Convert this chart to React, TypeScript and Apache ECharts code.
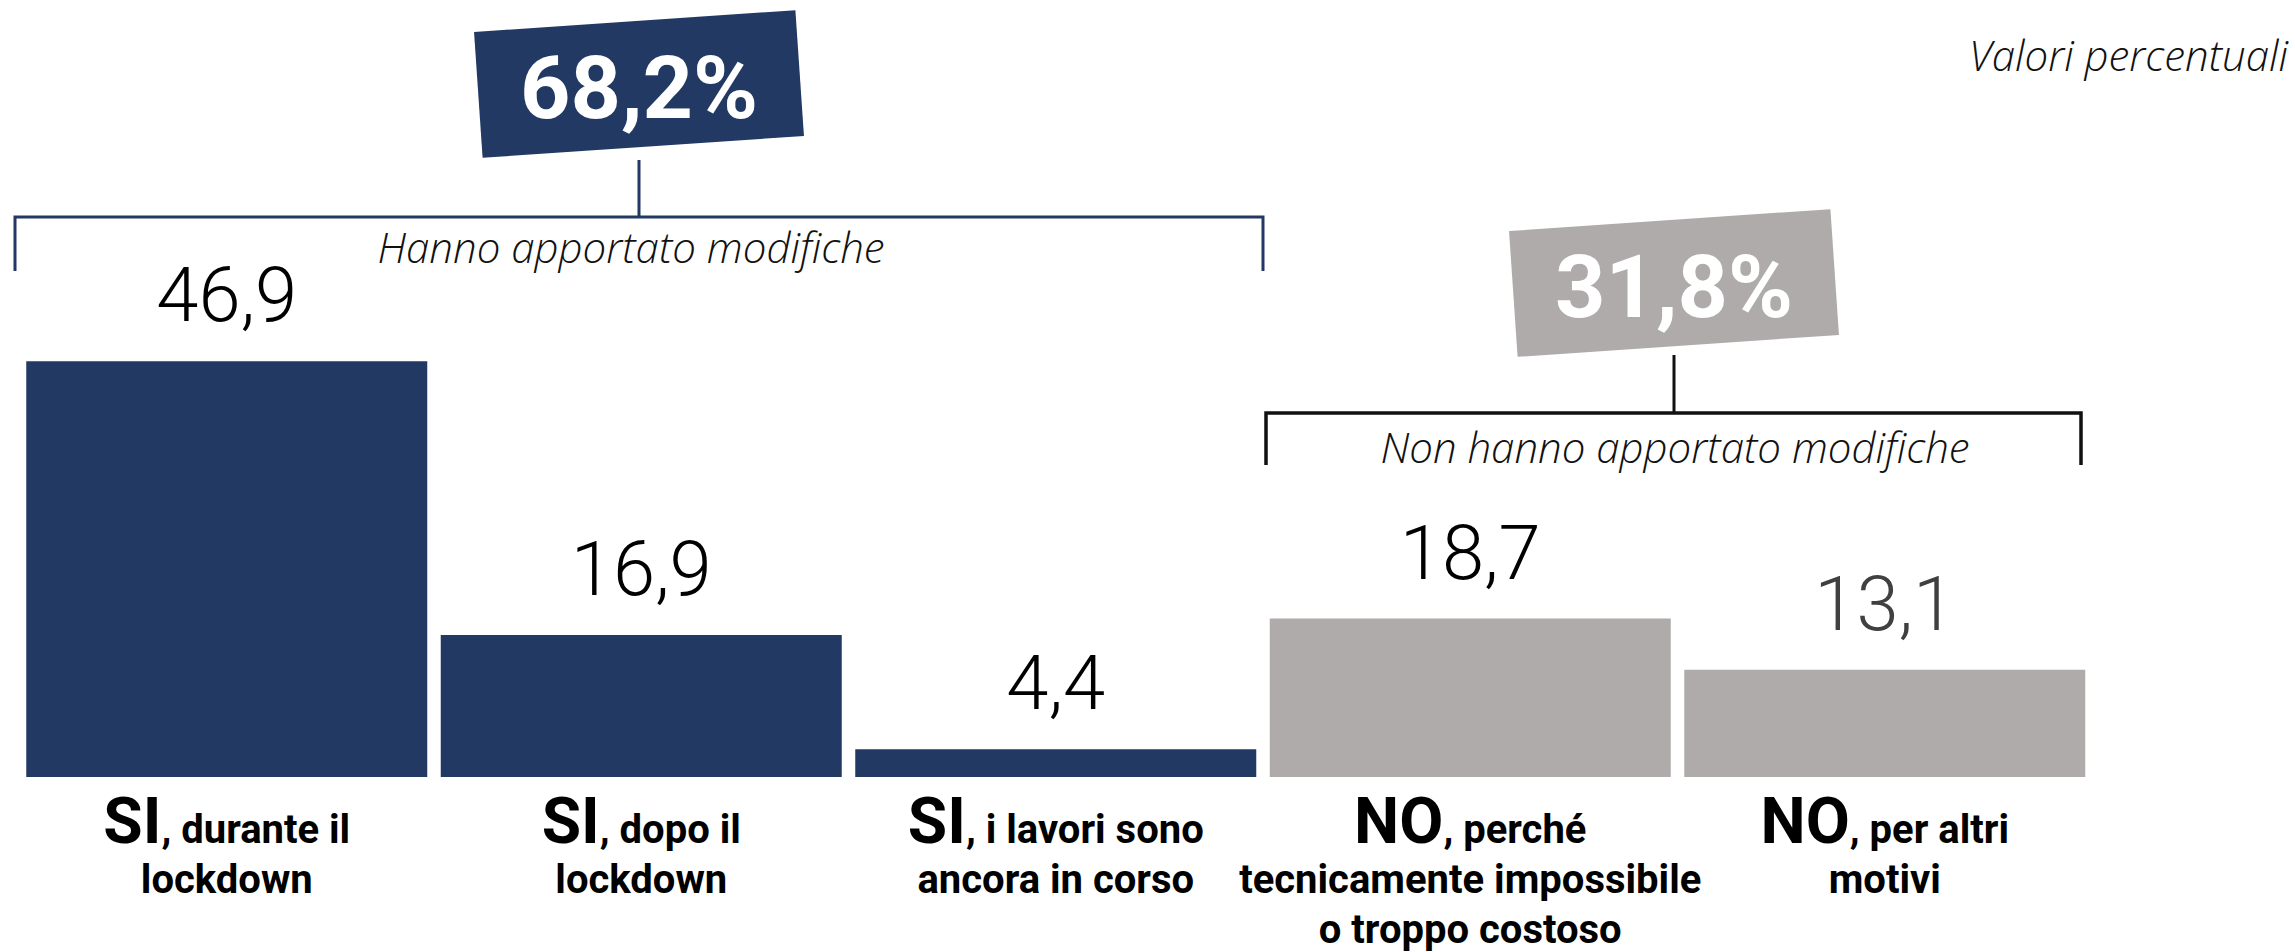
import React, { useEffect, useRef } from "react";
import * as echarts from "echarts";

const categories: string[] = [
  "SI, durante il\nlockdown",
  "SI, dopo il\nlockdown",
  "SI, i lavori sono\nancora in corso",
  "NO, perché\ntecnicamente impossibile\no troppo costoso",
  "NO, per altri\nmotivi",
];
const values: number[] = [46.9, 16.9, 4.4, 18.7, 13.1];
const groupOf: string[] = ["si", "si", "si", "no", "no"];
const groupTitles: string[] = ["Hanno apportato modifiche", "Non hanno apportato modifiche"];
const unitNote = "Valori percentuali";

const NAVY = "#223963";
const GREY = "#AFABAA";
const LABEL_DARK = "#000000";
const LABEL_GREY = "#404040";

const fmt = (v: number) => v.toFixed(1).replace(".", ",");

export default function App() {
  const ref = useRef<HTMLDivElement>(null);

  useEffect(() => {
    if (!ref.current) return;
    const chart = echarts.init(ref.current, undefined, { renderer: "svg" });

    const siTotal = values.reduce((s, v, i) => (groupOf[i] === "si" ? s + v : s), 0);
    const noTotal = values.reduce((s, v, i) => (groupOf[i] === "no" ? s + v : s), 0);

    const data = values.map((v, i) => ({
      value: v,
      itemStyle: { color: groupOf[i] === "si" ? NAVY : GREY },
      label: { color: i === values.length - 1 ? LABEL_GREY : LABEL_DARK },
    }));

    const italic = {
      fontFamily: "'Open Sans', sans-serif",
      fontStyle: "italic",
      fontWeight: 300,
      fontSize: 42,
      fill: "#111",
    };

    const box = (cx: number, cy: number, color: string, text: string) => ({
      type: "group",
      x: cx,
      y: cy,
      children: [
        {
          type: "rect",
          rotation: 0.068,
          shape: { x: -161, y: -63, width: 322, height: 126 },
          style: { fill: color },
        },
        {
          type: "text",
          x: 0,
          y: 3,
          style: {
            text,
            fill: "#ffffff",
            fontFamily: "Roboto, sans-serif",
            fontWeight: "bold",
            fontSize: 88,
            align: "center",
            verticalAlign: "middle",
            textAlign: "center",
            textVerticalAlign: "middle",
          },
        },
      ],
    });

    const option: any = {
      animation: false,
      backgroundColor: "#ffffff",
      grid: {
        left: 19.5,
        right: 203,
        top: 59,
        bottom: 175,
        containLabel: false,
        outerBoundsMode: "none",
      },
      xAxis: {
        type: "category",
        data: categories,
        axisLine: { show: false },
        axisTick: { show: false },
        splitLine: { show: false },
        axisLabel: {
          interval: 0,
          margin: 22,
          formatter: (val: string) => {
            const lines = val.split("\n");
            return lines
              .map((ln, idx) => {
                if (idx === 0) {
                  const m = ln.match(/^(SI|NO)(.*)$/);
                  if (m) return `{big|${m[1]}}{small|${m[2]}}`;
                }
                return `{small|${ln}}`;
              })
              .join("\n");
          },
          rich: {
            big: {
              fontFamily: "Roboto, sans-serif",
              fontWeight: "bold",
              fontSize: 64,
              height: 56,
              lineHeight: 50,
              verticalAlign: "bottom",
              color: "#000",
            },
            small: {
              fontFamily: "Roboto, sans-serif",
              fontWeight: "bold",
              fontSize: 40,
              lineHeight: 50,
              verticalAlign: "bottom",
              color: "#000",
            },
          },
        },
      },
      yAxis: {
        type: "value",
        show: false,
        min: 1.35,
        max: 80,
        splitLine: { show: false },
      },
      series: [
        {
          type: "bar",
          data,
          barWidth: 401,
          clip: true,
          label: {
            show: true,
            position: "top",
            distance: 28,
            fontFamily: "Roboto, sans-serif",
            fontWeight: 300,
            fontSize: 76,
            formatter: (p: any) => fmt(p.value),
          },
        },
      ],
      graphic: [
        box(639, 84, NAVY, fmt(siTotal) + "%"),
        box(1674, 283, GREY, fmt(noTotal) + "%"),
        {
          type: "line",
          shape: { x1: 639, y1: 160, x2: 639, y2: 217 },
          style: { stroke: NAVY, lineWidth: 3 },
        },
        {
          type: "polyline",
          shape: { points: [[15, 271], [15, 217], [1263, 217], [1263, 271]] },
          style: { stroke: NAVY, lineWidth: 3, fill: null },
        },
        {
          type: "line",
          shape: { x1: 1674, y1: 355, x2: 1674, y2: 413 },
          style: { stroke: "#111", lineWidth: 3 },
        },
        {
          type: "polyline",
          shape: { points: [[1266, 465], [1266, 413], [2081, 413], [2081, 465]] },
          style: { stroke: "#111", lineWidth: 3.5, fill: null },
        },
        {
          type: "text",
          x: 631,
          y: 246,
          style: {
            ...italic,
            text: groupTitles[0],
            align: "center",
            verticalAlign: "middle",
            textAlign: "center",
            textVerticalAlign: "middle",
          },
        },
        {
          type: "text",
          x: 1675,
          y: 446,
          style: {
            ...italic,
            text: groupTitles[1],
            align: "center",
            verticalAlign: "middle",
            textAlign: "center",
            textVerticalAlign: "middle",
          },
        },
        {
          type: "text",
          x: 2288,
          y: 54,
          style: {
            ...italic,
            text: unitNote,
            align: "right",
            verticalAlign: "middle",
            textAlign: "right",
            textVerticalAlign: "middle",
          },
        },
      ],
    };

    chart.setOption(option);
    return () => chart.dispose();
  }, []);

  return (
    <div
      ref={ref}
      style={{ position: "fixed", left: 0, top: 0, width: 2295, height: 952, background: "#fff" }}
    />
  );
}
